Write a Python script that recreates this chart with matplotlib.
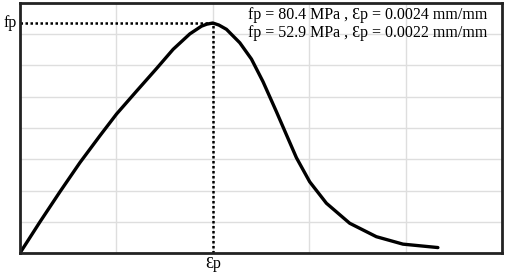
import numpy as np
import matplotlib.pyplot as plt

# stress-strain curve (strain in mm/mm, stress in MPa)
strain = [0.0, 0.000249, 0.000497, 0.000746, 0.000995, 0.001202, 0.001451, 0.001700,
          0.001906, 0.002114, 0.002259, 0.002325, 0.0024, 0.002475, 0.002570, 0.002736,
          0.002881, 0.003025, 0.003192, 0.003317, 0.003441, 0.003606, 0.003814, 0.004104,
          0.004436, 0.004767, 0.005202]
stress = [0.0, 10.9, 21.4, 31.6, 41.0, 48.6, 56.6, 64.5,
          71.2, 76.6, 79.3, 80.0, 80.4, 79.7, 78.2, 73.5,
          67.8, 59.9, 49.4, 41.3, 33.3, 24.9, 17.4, 10.4,
          5.7, 3.1, 1.9]

fp = 80.4
ep = 0.0024
notes = ["fp = 80.4 MPa , \u0190p = 0.0024 mm/mm",
         "fp = 52.9 MPa , \u0190p = 0.0022 mm/mm"]

x_max = 0.006
y_max = 87.4

serif = ["Liberation Serif", "DejaVu Serif"]

fig = plt.figure(figsize=(5.05, 2.72), dpi=100)
ax = fig.add_axes([20 / 505, 19 / 272, 482 / 505, 250 / 272])

ax.set_xlim(0, x_max)
ax.set_ylim(0, y_max)
ax.set_xticks(np.linspace(0, x_max, 6))
ax.set_yticks(np.linspace(0, y_max, 9))
ax.tick_params(length=0, labelbottom=False, labelleft=False)
ax.grid(True, color="#dedede", lw=1.0)
ax.set_axisbelow(True)
for s in ax.spines.values():
    s.set_linewidth(2.0)
    s.set_color("#222222")

ax.plot(strain, stress, color="black", lw=2.4, solid_capstyle="round", solid_joinstyle="round")

# dotted guides to the peak
ax.plot([0, ep], [fp, fp], color="black", lw=1.8, ls=(0, (1, 1)))
ax.plot([ep, ep], [0, fp], color="black", lw=1.8, ls=(0, (1, 1)))

ax.annotate("fp", xy=(0, fp), xytext=(-2.5, 0), textcoords="offset points",
            ha="right", va="center", fontsize=11.5, family=serif, annotation_clip=False)
ax.annotate("\u0190p", xy=(ep, 0), xytext=(0, -8), textcoords="offset points",
            ha="center", va="center", fontsize=11.5, family=serif, annotation_clip=False)

ax.text(0.00582, y_max - 4.2, notes[0], ha="right", va="center", fontsize=11.5, family=serif)
ax.text(0.00582, y_max - 10.5, notes[1], ha="right", va="center", fontsize=11.5, family=serif)

fig.savefig("out.png", dpi=100)
